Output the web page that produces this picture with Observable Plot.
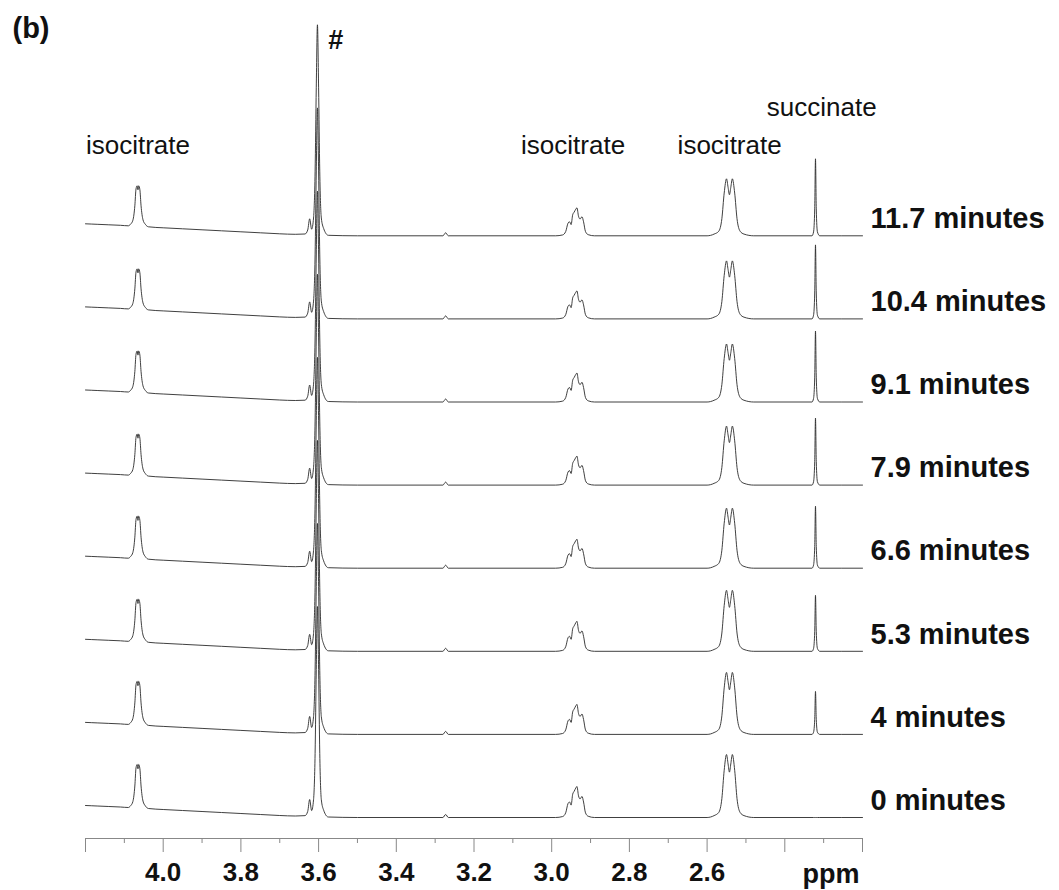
<!DOCTYPE html>
<html><head><meta charset="utf-8">
<script src="https://cdn.jsdelivr.net/npm/d3@7"></script>
<script src="https://cdn.jsdelivr.net/npm/@observablehq/plot@0.6"></script>
<style>body{margin:0;background:#fff}</style>
</head><body><div id="chart"></div>
<script>
// Trace labels (bottom to top)
const times = ["0 minutes","4 minutes","5.3 minutes","6.6 minutes","7.9 minutes","9.1 minutes","10.4 minutes","11.7 minutes"];

// Peak heights per trace (arbitrary intensity units), index = trace (0 min ... 11.7 min)
const isoAHeight = [43, 43, 42, 42, 41, 41, 40, 40];   // isocitrate ~4.07 ppm
const hashHeight = [210, 210, 210, 210, 210, 210, 210, 210]; // # ~3.60 ppm
const hashShoulder = [17, 17, 16, 16, 16, 16, 16, 16]; // ~3.62 ppm
const isoBHeight = [31, 30, 30, 29, 29, 29, 28, 28];   // isocitrate ~2.94 ppm
const isoCHeight = [63, 62, 61, 60, 59, 58, 58, 57];   // isocitrate ~2.54 ppm
const succHeight = [0, 43, 56, 62, 67, 71, 74, 77];    // succinate ~2.32 ppm

// Line-shape template: ppm, baseline level, peak group, fraction of that peak's height
const specPpm = [4.200,4.170,4.140,4.110,4.090,4.084,4.078,4.073,4.070,4.067,4.065,4.063,4.060,4.057,4.052,4.046,4.038,4.000,3.950,3.900,3.850,3.800,3.750,3.700,3.660,
  3.635,3.628,3.623,3.618,3.613,3.609,3.606,3.603,3.600,3.597,3.593,3.587,3.575,3.500,3.280,3.273,3.266,2.990,
  2.972,2.964,2.958,2.954,2.950,2.946,2.942,2.938,2.935,2.931,2.927,2.922,2.918,2.913,2.906,2.890,
  2.600,2.582,2.570,2.562,2.556,2.550,2.546,2.5425,2.539,2.535,2.529,2.523,2.515,2.505,2.480,
  2.330,2.326,2.323,2.321,2.319,2.316,2.310,2.200];
const specBase = [12,11.5,11,10.5,10,10,10,10,10,10,10,10,10,10,10,9.5,9,8,7,6,5,4,3,2,1.5,
  1,1,1,1,1,1,1,1,1,1,1,1,0.5,0,0,3,0,0,
  0,0,0,0,0,0,0,0,0,0,0,0,0,0,0,0,
  0,0,0,0,0,0,0,0,0,0,0,0,0,0,0,
  0,0,0,0,0,0,0,0];
const specGroup = [null,null,null,null,null,"isoA","isoA","isoA","isoA","isoA","isoA","isoA","isoA","isoA","isoA","isoA",null,null,null,null,null,null,null,null,null,
  "hashS","hashS","hashS","hashS","hash","hash","hash","hash","hash","hash","hash","hash",null,null,null,null,null,null,
  "isoB","isoB","isoB","isoB","isoB","isoB","isoB","isoB","isoB","isoB","isoB","isoB","isoB","isoB","isoB",null,
  null,"isoC","isoC","isoC","isoC","isoC","isoC","isoC","isoC","isoC","isoC","isoC","isoC","isoC",null,
  null,"succ","succ","succ","succ","succ",null,null];
const specFrac = [0,0,0,0,0,0.04,0.14,0.5,0.92,1.0,0.9,1.0,0.9,0.5,0.15,0.05,0,0,0,0,0,0,0,0,0,
  0.05,0.3,1.0,0.35,0.08,0.3,0.7,1.0,0.7,0.3,0.08,0.03,0,0,0,0,0,0,
  0.03,0.15,0.45,0.5,0.4,0.75,0.85,0.95,1.0,0.7,0.6,0.68,0.5,0.15,0.04,0,
  0,0.03,0.08,0.3,0.75,1.0,0.85,0.72,0.85,1.0,0.75,0.3,0.08,0.03,0,
  0,0.05,0.35,1.0,0.35,0.05,0,0];

// Axis ticks
const majorTicks = [4.2,4.0,3.8,3.6,3.4,3.2,3.0,2.8,2.6,2.4,2.2];
const majorLabels = ["","4.0","3.8","3.6","3.4","3.2","3.0","2.8","2.6","",""];
const minorTicks = [4.1,3.9,3.7,3.5,3.3,3.1,2.9,2.7,2.5,2.3];

// Peak annotations
const isoLabels = ["isocitrate","isocitrate","isocitrate"];
const isoLabelPpm = [4.065, 2.945, 2.542];
const succLabel = ["succinate"];
const succLabelPpm = [2.305];
const hashLabel = ["#"];
const hashLabelPpm = [3.575];

const groups = {isoA: isoAHeight, hash: hashHeight, hashS: hashShoulder, isoB: isoBHeight, isoC: isoCHeight, succ: succHeight};
const traceStep = 83.1;
const points = times.flatMap((t, i) => specPpm.map((p, k) => ({
  trace: t, ppm: p,
  v: i * traceStep + specBase[k] + (specGroup[k] ? groups[specGroup[k]][i] * specFrac[k] : 0)
})));
const labelMap = new Map(majorTicks.map((t, i) => [t, majorLabels[i]]));
const font = "'Liberation Sans', Arial, sans-serif";

const chart = Plot.plot({
  width: 1059, height: 890,
  marginLeft: 85, marginRight: 197, marginTop: 0, marginBottom: 52,
  x: {domain: [4.2, 2.2]},
  y: {domain: [-21, 817], axis: null},
  style: {fontFamily: font, background: "#fff", color: "#111"},
  marks: [
    Plot.line(points, {x: "ppm", y: "v", z: "trace", stroke: "#2a2a2a", strokeWidth: 0.9, curve: "monotone-x"}),
    Plot.frame({anchor: "bottom", stroke: "#888"}),
    Plot.axisX(majorTicks, {tickSize: 14, tickPadding: 10, tickFormat: d => labelMap.get(d), stroke: "#888", fill: "#111", fontSize: 26, fontWeight: "bold", label: null}),
    Plot.axisX(minorTicks, {tickSize: 5, tickFormat: () => "", stroke: "#888", label: null}),
    Plot.text(["ppm"], {frameAnchor: "bottom-right", dx: -3, dy: 44, lineAnchor: "bottom", textAnchor: "end", fontSize: 27, fontWeight: "bold", fill: "#111"}),
    Plot.text(times, {y: (d, i) => i * traceStep + 17, frameAnchor: "right", dx: 8, textAnchor: "start", lineAnchor: "middle", fontSize: 29, fontWeight: "bold", fill: "#111"}),
    Plot.text(isoLabels, {x: (d, i) => isoLabelPpm[i], frameAnchor: "top", dy: 153, lineAnchor: "bottom", fontSize: 26, fill: "#111"}),
    Plot.text(succLabel, {x: (d, i) => succLabelPpm[i], frameAnchor: "top", dy: 115, lineAnchor: "bottom", fontSize: 26, fill: "#111"}),
    Plot.text(hashLabel, {x: (d, i) => hashLabelPpm[i], frameAnchor: "top", dy: 48, lineAnchor: "bottom", textAnchor: "start", fontSize: 27, fontWeight: "bold", fill: "#111"}),
    Plot.text(["(b)"], {frameAnchor: "top-left", dx: -73, dy: 37, lineAnchor: "bottom", textAnchor: "start", fontSize: 29, fontWeight: "bold", fill: "#111"})
  ]
});
document.getElementById("chart").appendChild(chart);
</script>
</body></html>
